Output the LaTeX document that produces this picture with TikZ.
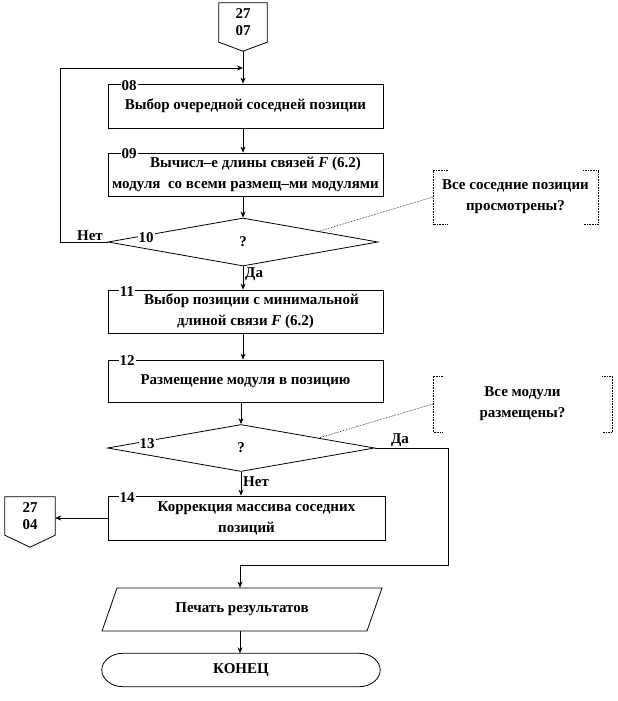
\documentclass[tikz,border=0pt]{standalone}
\usepackage{fontspec}
\setmainfont{Liberation Serif}
\usetikzlibrary{shapes.geometric,shapes.misc,arrows.meta,calc}
\begin{document}
\begin{tikzpicture}[x=1pt,y=-1pt,
  every node/.style={font=\fontsize{15}{21}\selectfont\bfseries},
  blk/.style={draw,line width=0.8pt,minimum width=275pt,align=center,inner sep=0pt},
  dia/.style={draw,diamond,line width=0.8pt,inner sep=0pt},
  num/.style={fill=white,inner sep=1pt},
  lab/.style={inner sep=1pt},
  arr/.style={line width=0.7pt,-{Stealth[length=6pt,width=5pt]}},
  ln/.style={line width=0.7pt},
  cal/.style={densely dotted,line width=0.6pt},
  conn/.style={align=center,minimum width=48pt,inner sep=0pt}
]
\useasboundingbox (0,0) rectangle (618,701);

% top connector
\node[conn,minimum height=39pt] (c1) at (243,22.5) {27\\[-4pt]07};
\coordinate (c1tip) at ($(c1.south)+(0,9)$);
\draw[line width=0.8pt] (c1.north west) -- (c1.north east) -- (c1.south east) -- (c1tip) -- (c1.south west) -- cycle;

% blocks
\node[blk,minimum height=44pt] (b08) at (245.5,106) {Выбор очередной соседней позиции};
\node[num] (n08) at (129,86) {08};
\node[blk,minimum height=43pt] (b09) at (245.5,174.5) {\hspace*{20pt}Вычисл–е длины связей \textit{F} (6.2)\\модуля\ \ со всеми размещ–ми модулями};
\node[num] (n09) at (129,154) {09};

\node[dia,minimum width=270pt,minimum height=48pt] (d10) at (243,242) {?};
\node[num] (n10) at (146,238) {10};

\node[blk,minimum height=43pt] (b11) at (245.5,311.5) {\hspace*{12pt}Выбор позиции с минимальной\\длиной связи \textit{F} (6.2)};
\node[num] (n11) at (127,292) {11};
\node[blk,minimum height=42pt] (b12) at (245.5,381) {Размещение модуля в позицию};
\node[num] (n12) at (127,361) {12};

\node[dia,minimum width=267pt,minimum height=47pt] (d13) at (241,448) {?};
\node[num] (n13) at (147,444) {13};

\node[blk,minimum width=277pt,minimum height=44pt] (b14) at (246.5,518) {\hspace*{20pt}Коррекция массива соседних\\позиций};
\node[num] (n14) at (127,498) {14};

% left connector
\node[conn,minimum width=50pt,minimum height=38pt] (c2) at (30,516) {27\\[-4pt]04};
\coordinate (c2tip) at ($(c2.south)+(0,12)$);
\draw[line width=0.8pt] (c2.north west) -- (c2.north east) -- (c2.south east) -- (c2tip) -- (c2.south west) -- cycle;

% output and end
\node[trapezium,trapezium left angle=41,trapezium right angle=139,trapezium stretches body,draw,line width=0.8pt,minimum width=280pt,minimum height=43pt,inner sep=0pt] (p) at (242,609.5) {Печать результатов};
\node[minimum width=236pt,minimum height=33pt,inner sep=0pt] (e) at (241,670) {КОНЕЦ};
\coordinate (eR) at ($(e.east)+(21,0)$);
\coordinate (eL) at ($(e.west)+(-21,0)$);
\draw[line width=0.8pt] (e.north west) -- (e.north east)
  .. controls ($(e.north east)+(11.5,0)$) and ($(eR)+(0,-9)$) .. (eR)
  .. controls ($(eR)+(0,9)$) and ($(e.south east)+(11.5,0)$) .. (e.south east)
  -- (e.south west)
  .. controls ($(e.south west)+(-11.5,0)$) and ($(eL)+(0,9)$) .. (eL)
  .. controls ($(eL)+(0,-9)$) and ($(e.north west)+(-11.5,0)$) .. (e.north west) -- cycle;

% callouts
\node[align=center,minimum width=165pt,minimum height=54pt,inner sep=0pt] (k1) at (515.5,197) {Все соседние позиции\\просмотрены?};
\draw[cal] ([xshift=15pt]k1.north west) -- (k1.north west) -- (k1.south west) -- ([xshift=15pt]k1.south west);
\draw[cal] ([xshift=-15pt]k1.north east) -- (k1.north east) -- (k1.south east) -- ([xshift=-15pt]k1.south east);
\coordinate (k1a) at ($(d10.north)!0.56!(d10.east)$);
\draw[cal] (k1a) -- (k1.west);

\node[align=center,minimum width=179pt,minimum height=56pt,inner sep=0pt] (k2) at (522.5,404) {Все модули\\размещены?};
\draw[cal] ([xshift=10pt]k2.north west) -- (k2.north west) -- (k2.south west) -- ([xshift=10pt]k2.south west);
\draw[cal] ([xshift=-10pt]k2.north east) -- (k2.north east) -- (k2.south east) -- ([xshift=-10pt]k2.south east);
\coordinate (k2a) at ($(d13.north)!0.58!(d13.east)$);
\draw[cal] (k2a) -- (k2.west);

% connectors
\coordinate (j1) at (243,68);
\coordinate (lp) at (60,68);
\draw[ln] (c1tip) -- (j1);
\draw[arr] (j1) -- (b08.north -| j1);
\draw[arr] (b08.south -| j1) -- (b09.north -| j1);
\draw[arr] (b09.south -| j1) -- (d10.north);
\draw[arr] (d10.west) -| (lp) -- (j1);
\node[lab,anchor=south] (net1) at (90,242) {Нет};
\draw[arr] (d10.south) -- (b11.north -| d10.south);
\node[lab,anchor=west] (da1) at (244,274) {Да};
\draw[arr] (b11.south -| d10.south) -- (b12.north -| d10.south);
\draw[arr] (b12.south -| d13.north) -- (d13.north);
\draw[arr] (d13.south) -- (b14.north -| d13.south);
\node[lab,anchor=west] (net2) at (242,482) {Нет};
\coordinate (r1) at (448,448);
\coordinate (r2) at (240,565);
\draw[arr] (d13.east) -- (r1) |- (r2) -- (p.north -| r2);
\node[lab,anchor=south] (da2) at (400,448) {Да};
\draw[arr] (b14.west) -- (b14.west -| c2.east);
\draw[arr] (p.south -| r2) -- (e.north -| r2);
\end{tikzpicture}
\end{document}
